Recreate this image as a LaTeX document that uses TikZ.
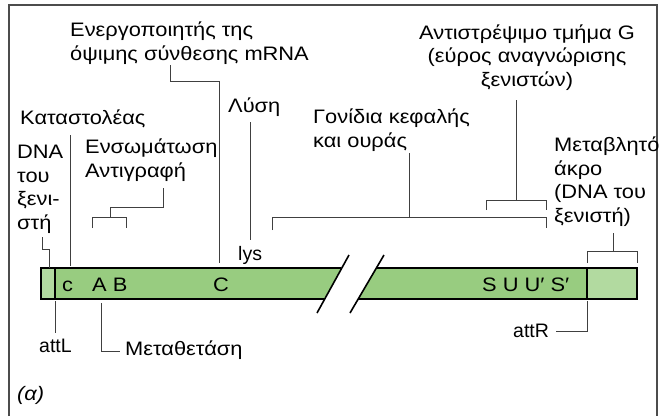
\documentclass[tikz,border=0pt]{standalone}
\usepackage{fontspec}
\setmainfont{Liberation Sans}[FakeStretch=1.12]
\newfontfamily\latinlbl{Liberation Sans}
\begin{document}
\begin{tikzpicture}[x=1pt,y=-1pt,
  lbl/.style={inner sep=0pt,anchor=base west,align=left,font=\fontsize{19.5}{23.5}\selectfont},
  lblc/.style={inner sep=0pt,anchor=base,align=center,font=\fontsize{19.5}{23.5}\selectfont},
  latlbl/.style={inner sep=0pt,anchor=base west,font=\latinlbl\fontsize{19.5}{23.5}\selectfont},
  conn/.style={draw=black!75,line width=1pt},
  barline/.style={draw=black,line width=1.6pt},
  slash/.style={draw=black,line width=1.6pt}]
\definecolor{bargreen}{RGB}{152,204,128}
\definecolor{barlight}{RGB}{178,218,160}
\useasboundingbox (0,0) rectangle (664,416);
% frame
\draw[draw=black!70,line width=2pt] (9,416) -- (9,5) -- (657,5) -- (657,416);

% bar, left part
\fill[barlight] (41,268) rectangle (55,299);
\fill[bargreen] (55,268) -- (341.3,268) -- (324.7,299) -- (55,299) -- cycle;
\draw[barline] (341.3,268) -- (41,268) -- (41,299) -- (324.7,299);
\draw[barline] (55,268) -- (55,299);
% bar, right part
\fill[bargreen] (375.8,268) -- (587,268) -- (587,299) -- (358.2,299) -- cycle;
\fill[barlight] (587,268) rectangle (637,299);
\draw[barline] (375.8,268) -- (637,268) -- (637,299) -- (358.2,299);
\draw[barline] (587,268) -- (587,299);
% break marks
\coordinate (s1a) at (349,255); \coordinate (s1b) at (317,313);
\coordinate (s2a) at (384,255); \coordinate (s2b) at (350,313);
\draw[slash] (s1a) -- (s1b);
\draw[slash] (s2a) -- (s2b);

% text in the bar
\node[lbl] (tc) at (62,291) {c};
\node[lbl] (tab) at (92,291) {A B};
\node[lbl] (tC) at (213,291) {C};
\node[lbl] (tsu) at (482,291) {S U U′ S′};

% labels (y = baseline of the last line)
\node[lbl] (act) at (70,60) {Ενεργοποιητής της\\όψιμης σύνθεσης mRNA};
\node[lblc] (inv) at (527,86) {Αντιστρέψιμο τμήμα G\\(εύρος αναγνώρισης\\ξενιστών)};
\node[lbl] (lysis) at (228,112) {Λύση};
\node[lbl] (rep) at (20,124) {Καταστολέας};
\node[lbl] (head) at (313,147) {Γονίδια κεφαλής\\και ουράς};
\node[lbl] (var) at (554,222) {Μεταβλητό\\άκρο\\(DNA του\\ξενιστή)};
\node[lbl] (host) at (17,229) {DNA\\του\\ξενι-\\στή};
\node[lbl] (int) at (85,177) {Ενσωμάτωση\\Αντιγραφή};
\node[latlbl] (lys) at (238,260) {lys};
\node[latlbl] (attL) at (39,352) {attL};
\node[lbl] (trans) at (125,355) {Μεταθετάση};
\node[latlbl] (attR) at (513,337) {attR};
\node[lbl,font=\fontsize{19.5}{23.5}\selectfont\itshape] (panel) at (17,400) {(α)};

% connectors
\coordinate (c1) at (170,65);
\draw[conn] (c1) -- (170,81) -- (219,81) -- (219,263);
\coordinate (c2) at (250,122);
\draw[conn] (c2) -- (250,240);
\coordinate (c3) at (70,135);
\draw[conn] (c3) -- (70,266);
\coordinate (c4) at (42,237);
\draw[conn] (c4) -- (42,249) -- (49,249) -- (49,268);
\coordinate (c5) at (163,188);
\draw[conn] (c5) -- (163,207) -- (110,207) -- (110,217);
\draw[conn] (92,228) -- (92,217) -- (126,217) -- (126,228);
\coordinate (c6) at (101,303);
\draw[conn] (c6) -- (101,351) -- (120,351);
\coordinate (c7) at (55,301);
\draw[conn] (c7) -- (55,333);
\coordinate (c8) at (587,301);
\draw[conn] (c8) -- (587,331) -- (556,331);
\coordinate (c9) at (409,153);
\draw[conn] (c9) -- (409,217);
\draw[conn] (272,230) -- (272,217) -- (546,217) -- (546,228);
\coordinate (c10) at (516,100);
\draw[conn] (c10) -- (516,200);
\draw[conn] (486,210) -- (486,200) -- (546,200) -- (546,210);
\coordinate (c11) at (613,233);
\draw[conn] (c11) -- (613,251);
\draw[conn] (587,263) -- (587,251) -- (637,251) -- (637,263);
\end{tikzpicture}
\end{document}
